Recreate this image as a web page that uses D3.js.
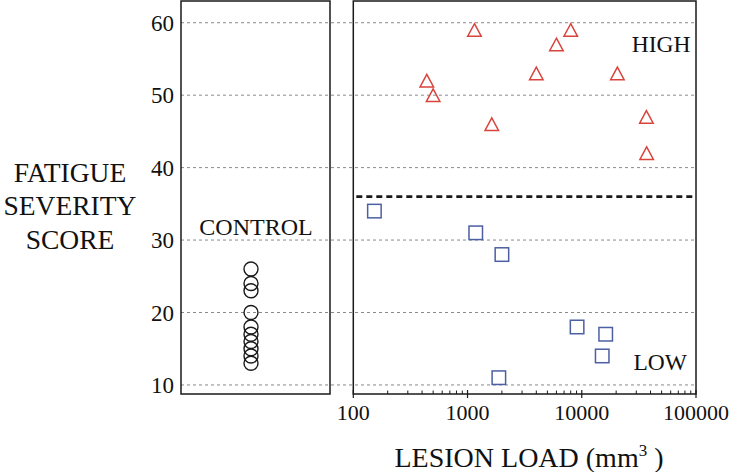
<!DOCTYPE html>
<html><head><meta charset="utf-8">
<script src="https://cdn.jsdelivr.net/npm/d3@7"></script>
<style>
html,body{margin:0;padding:0;background:#fff;}
svg{display:block;}
</style></head>
<body>
<svg id="chart" width="733" height="472" font-family="'Liberation Serif', 'Times New Roman', Times, 'DejaVu Serif', serif"></svg>
<script>
// ---- data ----
const yTicks = [10, 20, 30, 40, 50, 60];
const xTicks = [100, 1000, 10000, 100000];
const controlScores = [26, 24, 23, 20, 18, 17, 16, 15, 14, 13];
const highLesion = [1150, 8000, 6000, 440, 500, 4000, 20500, 1630, 36800, 37000];
const highScore  = [59, 59, 57, 52, 50, 53, 53, 46, 47, 42];
const lowLesion  = [153, 1180, 2000, 9100, 16200, 15100, 1880];
const lowScore   = [34, 31, 28, 18, 17, 14, 11];
const threshold = 36;

const svg = d3.select("#chart");
const FONT = "'Liberation Serif', 'Times New Roman', Times, 'DejaVu Serif', serif";

const y = d3.scaleLinear().domain([8.75, 63]).range([394, 1]);
const x = d3.scaleLog().domain([100, 100000]).range([353.3, 696]);
const xc = d3.scalePoint().domain(["CONTROL"]).range([181, 321]);

const leftX0 = 181, leftX1 = 330;

// gridlines
svg.append("g").selectAll("line").data(yTicks).join("line")
  .attr("x1", leftX0).attr("x2", x.range()[1])
  .attr("y1", d => y(d)).attr("y2", d => y(d))
  .attr("stroke", "#8a8a8a").attr("stroke-width", 1)
  .attr("stroke-dasharray", "3,3");

// y tick labels
svg.append("g").selectAll("text").data(yTicks).join("text")
  .attr("font-family", FONT).attr("fill", "#111")
  .attr("x", 174).attr("y", d => y(d)).attr("dy", "0.36em")
  .attr("text-anchor", "end").attr("font-size", 23)
  .text(d => d);

// panels
svg.append("rect").attr("x", leftX0).attr("y", y.range()[1])
  .attr("width", leftX1 - leftX0).attr("height", y.range()[0] - y.range()[1])
  .attr("fill", "none").attr("stroke", "#1a1a1a").attr("stroke-width", 1.5);
svg.append("rect").attr("x", x.range()[0]).attr("y", y.range()[1])
  .attr("width", x.range()[1] - x.range()[0]).attr("height", y.range()[0] - y.range()[1])
  .attr("fill", "none").attr("stroke", "#1a1a1a").attr("stroke-width", 1.5);

// x axis ticks (log)
const xb = y.range()[0];
const minor = [];
for (let dec = 100; dec < 100000; dec *= 10) for (let k = 2; k <= 9; k++) minor.push(dec * k);
svg.append("g").selectAll("line").data(minor).join("line")
  .attr("x1", d => x(d)).attr("x2", d => x(d))
  .attr("y1", xb).attr("y2", xb - 3.5)
  .attr("stroke", "#1a1a1a").attr("stroke-width", 1);
svg.append("g").selectAll("line").data(xTicks).join("line")
  .attr("x1", d => x(d)).attr("x2", d => x(d))
  .attr("y1", xb - 4).attr("y2", xb + 4)
  .attr("stroke", "#1a1a1a").attr("stroke-width", 1.2);
svg.append("g").selectAll("text").data(xTicks).join("text")
  .attr("font-family", FONT).attr("fill", "#111")
  .attr("x", d => x(d)).attr("y", 420)
  .attr("text-anchor", "middle").attr("font-size", 22)
  .text(d => d);

// threshold
svg.append("line")
  .attr("x1", x.range()[0] + 3).attr("x2", x.range()[1])
  .attr("y1", y(threshold)).attr("y2", y(threshold))
  .attr("stroke", "#1a1a1a").attr("stroke-width", 2.6)
  .attr("stroke-dasharray", "6,4");

// control circles
svg.append("g").selectAll("circle").data(controlScores).join("circle")
  .attr("cx", xc("CONTROL")).attr("cy", d => y(d)).attr("r", 7)
  .attr("fill", "none").attr("stroke", "#1a1a1a").attr("stroke-width", 1.4);

// high triangles (bbox-centred)
const tw = 13.5, th = 12.5;
svg.append("g").selectAll("path").data(highLesion.map((v, i) => [v, highScore[i]])).join("path")
  .attr("d", d => {
    const cx = x(d[0]), cy = y(d[1]);
    return `M${cx},${cy - th/2}L${cx + tw/2},${cy + th/2}L${cx - tw/2},${cy + th/2}Z`;
  })
  .attr("fill", "none").attr("stroke", "#d9433b").attr("stroke-width", 1.5);

// low squares
const sq = 13.5;
svg.append("g").selectAll("rect").data(lowLesion.map((v, i) => [v, lowScore[i]])).join("rect")
  .attr("x", d => x(d[0]) - sq/2).attr("y", d => y(d[1]) - sq/2)
  .attr("width", sq).attr("height", sq)
  .attr("fill", "none").attr("stroke", "#4c5fa3").attr("stroke-width", 1.5);

// labels
function label(tx, ty, size, anchor, str) {
  return svg.append("text").attr("font-family", FONT).attr("fill", "#111")
    .attr("x", tx).attr("y", ty).attr("font-size", size)
    .attr("text-anchor", anchor).text(str);
}
label(xc("CONTROL") + 5, 235, 24, "middle", "CONTROL");
label(690.5, 51.5, 23.5, "end", "HIGH");
label(687, 369.5, 23.5, "end", "LOW");

const yl = svg.append("text").attr("font-family", FONT).attr("fill", "#111")
  .attr("text-anchor", "middle").attr("font-size", 27.5);
["FATIGUE", "SEVERITY", "SCORE"].forEach((t, i) => {
  yl.append("tspan").attr("x", 70).attr("y", 181.5 + i * 33.5).text(t);
});

const xl = svg.append("text").attr("font-family", FONT).attr("fill", "#111")
  .attr("x", 529).attr("y", 466.5)
  .attr("text-anchor", "middle").attr("font-size", 28);
xl.append("tspan").text("LESION LOAD (mm");
xl.append("tspan").attr("font-size", 17).attr("dy", -11).text("3");
xl.append("tspan").attr("dy", 11).text(" )");
</script>
</body></html>
